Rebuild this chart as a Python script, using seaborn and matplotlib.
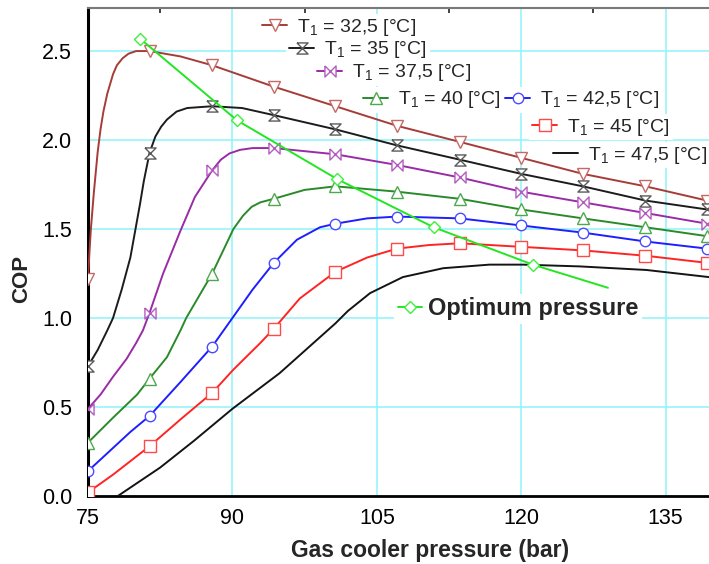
import numpy as np
import pandas as pd
import matplotlib
matplotlib.use("Agg")
import matplotlib.pyplot as plt
import seaborn as sns
from matplotlib.ticker import MultipleLocator, FormatStrFormatter

# ---------------- data ----------------
P_MARK = [75.0, 81.4, 87.9, 94.3, 100.7, 107.1, 113.6, 120.0, 126.4, 132.9, 139.3]

P_325 = [75.0, 75.15, 75.3, 75.6, 76.0, 76.3, 76.6, 77.0, 77.6, 78.0, 78.6, 79.2, 80.0,
         81.4, 84.6, 87.9, 94.3, 100.7, 107.1, 113.6, 120.0, 126.4, 132.9, 139.3]
COP_325 = [1.22, 1.37, 1.50, 1.70, 1.93, 2.06, 2.16, 2.26, 2.37, 2.42, 2.46, 2.485, 2.50,
           2.50, 2.47, 2.42, 2.30, 2.19, 2.08, 1.99, 1.90, 1.81, 1.74, 1.66]

P_35 = [75.0, 76.0, 77.0, 77.6, 78.5, 79.4, 80.4, 80.8, 81.4, 82.0, 82.6, 83.2, 84.2,
        85.3, 87.9, 91.0, 94.3, 100.7, 107.1, 113.6, 120.0, 126.4, 132.9, 139.3]
COP_35 = [0.73, 0.82, 0.93, 1.00, 1.16, 1.34, 1.64, 1.77, 1.93, 2.02, 2.075, 2.115, 2.16,
          2.18, 2.19, 2.18, 2.14, 2.06, 1.97, 1.89, 1.81, 1.74, 1.66, 1.61]

P_375 = [75.0, 76.3, 77.6, 79.0, 80.0, 80.7, 81.4, 82.8, 84.6, 86.1, 87.9, 88.8, 89.7,
         90.8, 92.1, 94.3, 100.7, 107.1, 113.6, 120.0, 126.4, 132.9, 139.3]
COP_375 = [0.49, 0.57, 0.67, 0.77, 0.86, 0.93, 1.03, 1.25, 1.49, 1.68, 1.83, 1.89, 1.925,
           1.945, 1.955, 1.955, 1.92, 1.86, 1.79, 1.71, 1.65, 1.59, 1.53]

P_40 = [75.0, 77.6, 80.1, 81.4, 83.2, 84.6, 85.2, 87.9, 89.4, 90.1, 91.1, 92.0, 92.9,
        94.3, 97.5, 100.7, 107.1, 113.6, 120.0, 126.4, 132.9, 139.3]
COP_40 = [0.30, 0.44, 0.57, 0.66, 0.78, 0.93, 1.00, 1.25, 1.42, 1.50, 1.575, 1.625, 1.65,
          1.67, 1.72, 1.74, 1.71, 1.67, 1.61, 1.56, 1.51, 1.46]

P_425 = [75.0, 77.6, 79.4, 81.4, 84.6, 87.9, 90.0, 92.1, 94.3, 96.7, 99.1, 100.7,
         104.0, 107.1, 113.6, 120.0, 126.4, 132.9, 139.3]
COP_425 = [0.14, 0.27, 0.36, 0.45, 0.64, 0.84, 1.00, 1.16, 1.31, 1.44, 1.51, 1.53,
           1.56, 1.57, 1.56, 1.52, 1.48, 1.43, 1.39]

P_45 = [75.0, 77.6, 81.4, 84.6, 87.9, 90.1, 92.9, 94.3, 97.0, 100.7, 104.0, 107.1,
        110.4, 113.6, 120.0, 126.4, 132.9, 139.3]
COP_45 = [0.02, 0.12, 0.28, 0.43, 0.58, 0.71, 0.86, 0.94, 1.11, 1.26, 1.34, 1.39,
          1.41, 1.42, 1.40, 1.38, 1.35, 1.31]

P_475 = [78.1, 82.5, 86.0, 90.0, 94.9, 97.8, 100.7, 102.0, 104.3, 107.7, 111.9, 116.7,
         120.2, 126.1, 133.0, 139.5]
COP_475 = [0.00, 0.16, 0.31, 0.49, 0.69, 0.83, 0.97, 1.04, 1.14, 1.23, 1.28, 1.30,
           1.30, 1.29, 1.27, 1.23]

P_OPT = [80.4, 90.5, 100.9, 110.9, 121.2, 129.0]
COP_OPT = [2.57, 2.11, 1.78, 1.51, 1.30, 1.17]

T_LABELS = ["32,5", "35", "37,5", "40", "42,5", "45", "47,5"]
OPT_LABEL = "Optimum pressure"
X_TICKS = [75, 90, 105, 120, 135]
Y_TICKS = [0.0, 0.5, 1.0, 1.5, 2.0, 2.5]

# ---------------- style ----------------
W, H = 709, 564
sns.set_style("white")
plt.rcParams["font.family"] = ["Liberation Sans", "DejaVu Sans"]
plt.rcParams["mathtext.fontset"] = "custom"
plt.rcParams["mathtext.rm"] = "Liberation Sans"
plt.rcParams["mathtext.it"] = "Liberation Sans:italic"
plt.rcParams["mathtext.bf"] = "Liberation Sans:bold"

HOURGLASS = [(-1, 1), (1, 1), (-1, -1), (1, -1), (-1, 1)]
BOWTIE = [(-1, 1), (-1, -1), (1, 1), (1, -1), (-1, 1)]

series = [
    (P_325, COP_325, "#a63c38", "#c46a66", "v", 9.0),
    (P_35, COP_35, "#1c1c1c", "#5a5a5a", HOURGLASS, 8.0),
    (P_375, COP_375, "#9a2ba6", "#b45cc0", BOWTIE, 8.0),
    (P_40, COP_40, "#2a8a2a", "#4ea84e", "^", 9.0),
    (P_425, COP_425, "#1e1eff", "#4a4aff", "o", 7.5),
    (P_45, COP_45, "#ff2424", "#ff4a4a", "s", 8.5),
    (P_475, COP_475, "#141414", None, None, 0),
]

fig = plt.figure(figsize=(W / 100, H / 100), dpi=100)
ax = fig.add_axes([88 / W, 1 - 496 / H, 1 - 88 / W, (496 - 8) / H])

handles = []
for P, C, col, ecol, mk, ms in series:
    df = pd.DataFrame({"p": P, "cop": C})
    kw = dict(color=col, linewidth=1.4, zorder=3)
    if mk is not None:
        idx = [int(np.argmin(np.abs(np.array(P) - pm))) for pm in P_MARK]
        kw.update(marker=mk, markevery=idx, markersize=ms, markerfacecolor="white",
                  markeredgecolor=ecol, markeredgewidth=1.0)
    sns.lineplot(data=df, x="p", y="cop", ax=ax, sort=False, estimator=None,
                 legend=False, **kw)
    handles.append(ax.lines[-1])

df_opt = pd.DataFrame({"p": P_OPT, "cop": COP_OPT})
sns.lineplot(data=df_opt, x="p", y="cop", ax=ax, sort=False, estimator=None, legend=False,
             color="#22e622", linewidth=1.4, marker="D", markersize=6.5,
             markevery=list(range(len(P_OPT) - 1)), markerfacecolor="white",
             markeredgecolor="#3cf03c", markeredgewidth=1.0, zorder=4)
opt_handle = ax.lines[-1]

# ---------------- axes ----------------
ax.set_xlim(75, 139.5)
ax.set_ylim(0, 2.742)
ax.set_xticks(X_TICKS)
ax.set_yticks(Y_TICKS)
ax.yaxis.set_major_formatter(FormatStrFormatter("%.1f"))
ax.xaxis.set_minor_locator(MultipleLocator(7.5))
ax.yaxis.set_minor_locator(MultipleLocator(0.25))
ax.tick_params(which="major", length=0, labelsize=15.5, colors="black")
ax.tick_params(axis="x", which="major", pad=8.5)
ax.tick_params(axis="y", which="major", pad=11.5)
ax.tick_params(which="minor", direction="in", length=3.5, width=1.3, top=True,
               color="#333333")
ax.set_axisbelow(True)
ax.grid(True, which="major", color="#8ef4f8", linewidth=1.1)
for t in ax.yaxis.get_major_ticks():
    if abs(t.get_loc() - 2.5) < 1e-6:
        t.gridline.set_visible(False)

ax.spines["right"].set_visible(False)
ax.spines["top"].set_color("#7a7a7a")
ax.spines["top"].set_linewidth(1.5)
ax.spines["left"].set_linewidth(2.2)
ax.spines["bottom"].set_linewidth(2.0)
ax.spines["left"].set_color("black")
ax.spines["bottom"].set_color("black")

ax.set_xlabel("Gas cooler pressure (bar)", fontsize=16.5, fontweight="bold")
ax.xaxis.set_label_coords(0.551, -0.088)
ax.set_ylabel("COP", fontsize=16, fontweight="bold")
ax.yaxis.set_label_coords(-0.090, 0.445)

# ---------------- legends (placed one by one like the reference) ----------------
leg_pos = [(259, 27), (286, 50), (314, 73), (360, 100), (502, 100), (529, 127), (550, 155)]


def add_leg(h, label, px, py, fs, weight="normal", hl=1.3, tp=0.5):
    leg = ax.legend([h], [label], loc="center left",
                    bbox_to_anchor=(px / W, 1 - py / H), bbox_transform=fig.transFigure,
                    frameon=True, facecolor="white", edgecolor="none", framealpha=1,
                    fancybox=False, borderpad=0.15, borderaxespad=0, numpoints=1,
                    handlelength=hl, handletextpad=tp,
                    prop={"size": fs, "weight": weight})
    leg.set_zorder(1.5)
    ax.add_artist(leg)


for h, lab, (px, py) in zip(handles, T_LABELS, leg_pos):
    add_leg(h, r"T$_1$ = " + lab + " [°C]", px, py, 14)
add_leg(opt_handle, OPT_LABEL, 394, 309, 17, weight="bold", hl=1.05, tp=0.25)

fig.savefig("out.png", dpi=100)
